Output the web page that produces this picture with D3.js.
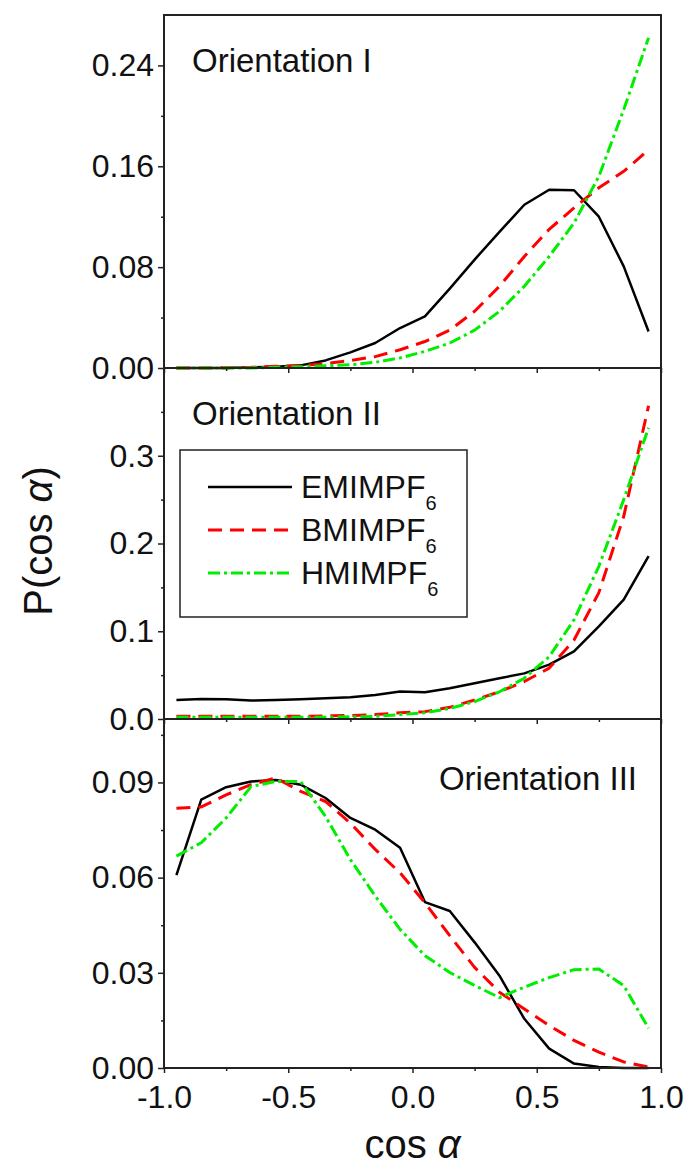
<!DOCTYPE html>
<html>
<head>
<meta charset="utf-8">
<script src="https://cdn.jsdelivr.net/npm/d3@7"></script>
<style>
  body { margin: 0; background: #fff; }
  svg text { font-family: "Liberation Sans", Arial, sans-serif; fill: #111; }
</style>
</head>
<body>
<div id="chart"></div>
<script>
// bin centres of cos(alpha)
const cosBins = [-0.95, -0.85, -0.75, -0.65, -0.55, -0.45, -0.35, -0.25, -0.15, -0.05,
                 0.05, 0.15, 0.25, 0.35, 0.45, 0.55, 0.65, 0.75, 0.85, 0.95];

const seriesNames = ["EMIMPF", "BMIMPF", "HMIMPF"];

// Orientation I
const emimI = [0, 0, 0, 0.0005, 0.001, 0.0021, 0.006, 0.0124, 0.0198, 0.0317,
               0.041, 0.063, 0.086, 0.108, 0.1295, 0.1414, 0.141, 0.120, 0.0806, 0.029];
const bmimI = [0, 0, 0.0002, 0.0005, 0.0013, 0.0018, 0.0034, 0.006, 0.009, 0.0145,
               0.021, 0.030, 0.045, 0.0648, 0.0885, 0.110, 0.127, 0.143, 0.156, 0.173];
const hmimI = [0, 0, 0, 0, 0.0005, 0.001, 0.0018, 0.0026, 0.0045, 0.008,
               0.0132, 0.0198, 0.030, 0.045, 0.0648, 0.0885, 0.115, 0.152, 0.205, 0.262];

// Orientation II
const emimII = [0.0217, 0.0229, 0.0225, 0.021, 0.0217, 0.0225, 0.0236, 0.0248, 0.0274, 0.0313,
                0.0305, 0.035, 0.0408, 0.0465, 0.052, 0.062, 0.077, 0.1056, 0.136, 0.1856];
const bmimII = [0.003, 0.003, 0.003, 0.003, 0.003, 0.003, 0.0035, 0.004, 0.005, 0.007,
                0.0084, 0.0133, 0.0217, 0.031, 0.0427, 0.058, 0.090, 0.144, 0.231, 0.357];
const hmimII = [0.002, 0.002, 0.002, 0.002, 0.002, 0.002, 0.002, 0.0025, 0.003, 0.005,
                0.0072, 0.012, 0.0198, 0.031, 0.0465, 0.071, 0.113, 0.174, 0.25, 0.332];

// Orientation III
const emimIII = [0.0608, 0.0846, 0.0885, 0.0903, 0.0908, 0.0893, 0.0851, 0.0788, 0.0751, 0.0694,
                 0.0523, 0.0495, 0.0396, 0.0291, 0.0155, 0.0061, 0.0014, 0.0003, 0, 0];
const bmimIII = [0.0819, 0.0823, 0.0861, 0.0893, 0.0914, 0.0872, 0.084, 0.0772, 0.0689, 0.0615,
                 0.0521, 0.0417, 0.0317, 0.0239, 0.0186, 0.0134, 0.0087, 0.005, 0.0019, 0.0003];
const hmimIII = [0.0668, 0.071, 0.0788, 0.0887, 0.0903, 0.0903, 0.0793, 0.0657, 0.0542, 0.0437,
                 0.0354, 0.0301, 0.026, 0.0222, 0.0255, 0.0285, 0.031, 0.0312, 0.026, 0.0125];

const panelLabels = ["Orientation I", "Orientation II", "Orientation III"];
const yMax = [0.28, 0.40, 0.11];
const yMajor = [[0, 0.08, 0.16, 0.24], [0, 0.1, 0.2, 0.3], [0, 0.03, 0.06, 0.09]];
const yMinor = [[0.04, 0.12, 0.20], [0.05, 0.15, 0.25, 0.35], [0.015, 0.045, 0.075, 0.105]];
const yFormat = [".2f", ".1f", ".2f"];
const xMajor = [-1, -0.5, 0, 0.5, 1];
const xMinor = [-0.75, -0.25, 0.25, 0.75];

const panels = [
  [emimI, bmimI, hmimI],
  [emimII, bmimII, hmimII],
  [emimIII, bmimIII, hmimIII]
];

const width = 692, height = 1165;
const left = 164, right = 661;
const panelTops = [15, 368, 719];
const panelH = [353, 351, 349];

const colors = ["#000000", "#ff0000", "#00ee00"];
const dashes = [null, "14,8", "12,4,3,4"];
const widths = [2.5, 3, 3];

// plain hyphen for negatives, like the original figure
const fmtX = (d) => d3.format(".1f")(d).replace("−", "-");

const svg = d3.select("#chart")
  .append("svg")
  .attr("width", width)
  .attr("height", height);

const x = d3.scaleLinear().domain([-1, 1]).range([left, right]);

panels.forEach((series, p) => {
  const top = panelTops[p];
  const bottom = top + panelH[p];
  const y = d3.scaleLinear().domain([0, yMax[p]]).range([bottom, top]);

  const g = svg.append("g");

  // lines
  const line = d3.line()
    .x((d, i) => x(cosBins[i]))
    .y((d) => y(d));

  series.forEach((vals, s) => {
    g.append("path")
      .datum(vals)
      .attr("d", line)
      .attr("fill", "none")
      .attr("stroke", colors[s])
      .attr("stroke-width", widths[s])
      .attr("stroke-dasharray", dashes[s])
      .attr("stroke-linejoin", "round");
  });

  // frame
  g.append("rect")
    .attr("x", left)
    .attr("y", top)
    .attr("width", right - left)
    .attr("height", bottom - top)
    .attr("fill", "none")
    .attr("stroke", "#222")
    .attr("stroke-width", 2);

  // left axis
  const yAxis = g.append("g")
    .attr("transform", `translate(${left},0)`)
    .call(d3.axisLeft(y).tickValues(yMajor[p]).tickSize(6).tickPadding(4)
      .tickFormat(d3.format(yFormat[p])));
  yAxis.select(".domain").remove();
  yAxis.selectAll("line").attr("stroke", "#222").attr("stroke-width", 1.5);
  yAxis.selectAll("text")
    .style("font-size", "32px")
    .style("font-family", "'Liberation Sans', Arial, sans-serif")
    .attr("fill", "#111");

  const yMinorAxis = g.append("g")
    .attr("transform", `translate(${left},0)`)
    .call(d3.axisLeft(y).tickValues(yMinor[p]).tickSize(3).tickFormat(""));
  yMinorAxis.select(".domain").remove();
  yMinorAxis.selectAll("line").attr("stroke", "#222").attr("stroke-width", 1.5);

  // bottom axis
  const xAxis = g.append("g")
    .attr("transform", `translate(0,${bottom})`)
    .call(d3.axisBottom(x).tickValues(xMajor).tickSize(5).tickPadding(12)
      .tickFormat(p === 2 ? fmtX : ""));
  xAxis.select(".domain").remove();
  xAxis.selectAll("line").attr("stroke", "#222").attr("stroke-width", 1.5);
  xAxis.selectAll("text")
    .style("font-size", "32px")
    .style("font-family", "'Liberation Sans', Arial, sans-serif")
    .attr("fill", "#111");

  const xMinorAxis = g.append("g")
    .attr("transform", `translate(0,${bottom})`)
    .call(d3.axisBottom(x).tickValues(xMinor).tickSize(3).tickFormat(""));
  xMinorAxis.select(".domain").remove();
  xMinorAxis.selectAll("line").attr("stroke", "#222").attr("stroke-width", 1.5);

  // panel label
  const lbl = g.append("text")
    .attr("y", top + 57)
    .style("font-size", "33px")
    .text(panelLabels[p]);
  if (p === 2) {
    lbl.attr("x", 637).attr("y", top + 71).attr("text-anchor", "end");
  } else {
    lbl.attr("x", 192);
  }
});

// legend in the middle panel
const legend = svg.append("g");
legend.append("rect")
  .attr("x", 180)
  .attr("y", 450)
  .attr("width", 287)
  .attr("height", 167)
  .attr("fill", "#fff")
  .attr("stroke", "#222")
  .attr("stroke-width", 1.5);

seriesNames.forEach((name, s) => {
  const ly = 487 + s * 43;
  legend.append("line")
    .attr("x1", 208).attr("x2", 292)
    .attr("y1", ly).attr("y2", ly)
    .attr("stroke", colors[s])
    .attr("stroke-width", widths[s])
    .attr("stroke-dasharray", dashes[s]);
  const t = legend.append("text")
    .attr("x", 301)
    .attr("y", ly + 11)
    .style("font-size", "32px")
    .text(name);
  t.append("tspan")
    .attr("dy", 12)
    .style("font-size", "20px")
    .text("6");
});

// axis titles
const yTitle = svg.append("text")
  .attr("transform", "translate(52,541) rotate(-90)")
  .attr("text-anchor", "middle")
  .style("font-size", "40px");
yTitle.append("tspan").text("P(cos ");
yTitle.append("tspan").style("font-style", "italic").text("α");
yTitle.append("tspan").text(")");

const xTitle = svg.append("text")
  .attr("x", (left + right) / 2)
  .attr("y", 1158)
  .attr("text-anchor", "middle")
  .style("font-size", "40px");
xTitle.append("tspan").text("cos ");
xTitle.append("tspan").style("font-style", "italic").text("α");
</script>
</body>
</html>
